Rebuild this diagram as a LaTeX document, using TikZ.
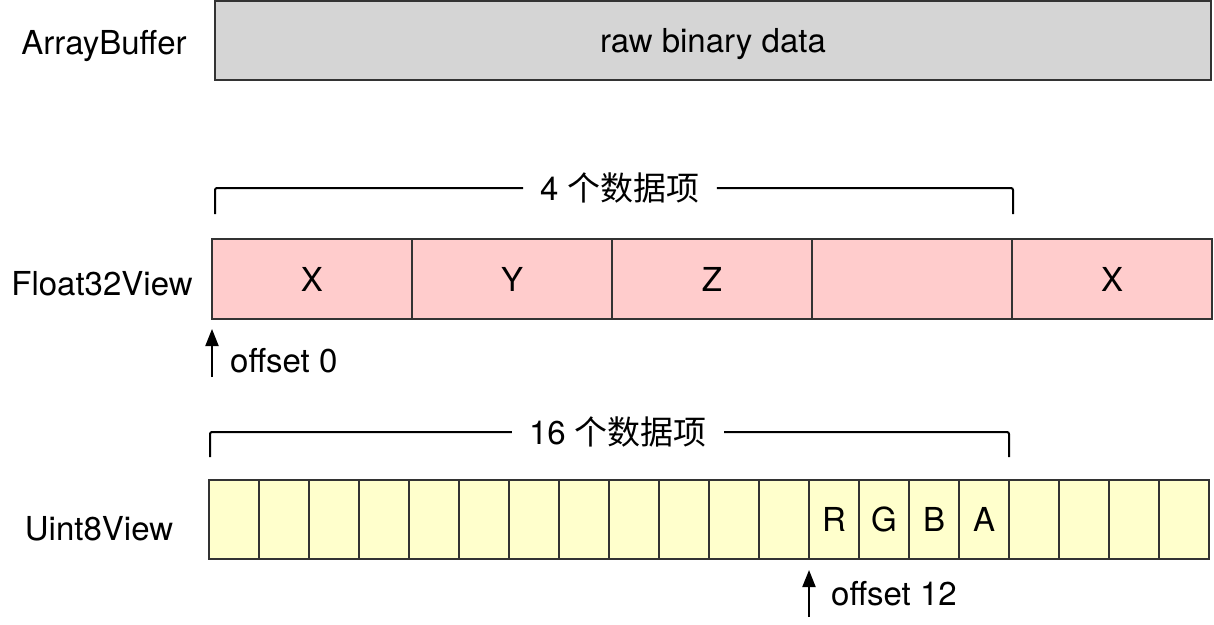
\documentclass[tikz,border=0pt]{standalone}
\usepackage{fontspec}
\setmainfont{TeX Gyre Heros}
\newfontfamily\cjk{Noto Sans CJK SC}
\usetikzlibrary{arrows.meta}
\definecolor{edge}{HTML}{333333}
\definecolor{grayF}{HTML}{D5D5D5}
\definecolor{pinkF}{HTML}{FFCCCC}
\definecolor{yellowF}{HTML}{FFFFCC}
\tikzset{
  fnt/.style={font=\fontsize{33}{39}\selectfont},
  lab/.style={fnt, inner sep=0pt, text depth=0pt},
  bufbox/.style={draw=edge, fill=grayF, line width=2pt, minimum width=996pt, minimum height=79pt, inner sep=0pt, outer sep=0pt, fnt, text depth=0pt},
  cellF/.style={draw=edge, fill=pinkF, line width=2pt, minimum width=200pt, minimum height=80pt, inner sep=0pt, outer sep=0pt, fnt, text depth=0pt},
  cellU/.style={draw=edge, fill=yellowF, line width=2pt, minimum width=50pt, minimum height=79pt, inner sep=0pt, outer sep=0pt, fnt, text depth=0pt},
  brk/.style={line width=2pt, black, rounded corners=2pt},
  btext/.style={fnt, inner xsep=17pt, inner ysep=0pt},
  arr/.style={line width=2pt, black, -{Triangle[length=17pt,width=13pt]}}
}
\begin{document}
\begin{tikzpicture}[x=1pt,y=-1pt]
\useasboundingbox (0,0) rectangle (1214,624);
% ArrayBuffer
\node[lab] (abl) at (104,42) {ArrayBuffer};
\node[bufbox] (ab) at (713,40.5) {raw binary data};
% bracket 4
\node[btext] (t4) at (620,188) {4 {\cjk 个数据项}};
\coordinate (b4l) at (215,214);
\coordinate (b4r) at (1013,214);
\draw[brk] (b4l) |- (t4.west);
\draw[brk] (t4.east) -| (b4r);
% Float32View
\node[lab] (fl) at (102,283) {Float32View};
\node[cellF] (f1) at (312,279) {X};
\node[cellF] (f2) at (512,279) {Y};
\node[cellF] (f3) at (712,279) {Z};
\node[cellF] (f4) at (912,279) {};
\node[cellF] (f5) at (1112,279) {X};
% offset 0
\coordinate (a0s) at (212,377);
\coordinate (a0e) at (212,329);
\draw[arr] (a0s) -- (a0e);
\node[lab, anchor=west] (o0) at (230,360) {offset 0};
% bracket 16
\node[btext] (t16) at (618,432) {16 {\cjk 个数据项}};
\coordinate (b16l) at (210,457);
\coordinate (b16r) at (1009,457);
\draw[brk] (b16l) |- (t16.west);
\draw[brk] (t16.east) -| (b16r);
% Uint8View
\node[lab] (ul) at (99,528) {Uint8View};
\foreach \i in {0,...,19} {
  \node[cellU] (u\i) at ({234+50*\i},519.5) {};
}
\node[lab] (lr) at (u12) {R};
\node[lab] (lg) at (u13) {G};
\node[lab] (lb) at (u14) {B};
\node[lab] (la) at (u15) {A};
% offset 12
\coordinate (a12s) at (809,617);
\coordinate (a12e) at (809,570);
\draw[arr] (a12s) -- (a12e);
\node[lab, anchor=west] (o12) at (831,593) {offset 12};
\end{tikzpicture}
\end{document}
